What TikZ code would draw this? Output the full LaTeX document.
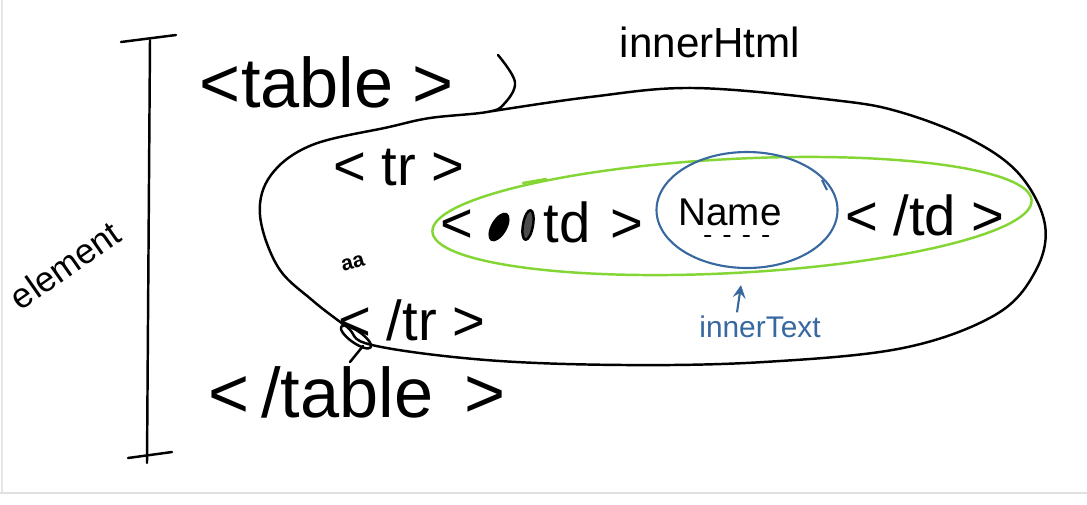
\documentclass[tikz,border=0pt]{standalone}
\usepackage{fontspec}
\setmainfont{Liberation Sans}
\usepackage{xcolor}
\usetikzlibrary{shapes.geometric, arrows, positioning, calc}
\definecolor{pengreen}{RGB}{132,214,52}
\definecolor{penblue}{RGB}{56,104,160}

\begin{document}
\begin{tikzpicture}[
    x=0.1mm, y=-0.1mm,
    pen/.style={line width=0.7pt, line cap=round, line join=round},
    bigtag/.style={inner sep=0pt, font=\fontsize{20}{24}\selectfont},
    tag/.style={inner sep=0pt, font=\fontsize{16}{19}\selectfont},
    note/.style={inner sep=0pt, font=\fontsize{12}{14}\selectfont},
    ring/.style={draw, ellipse, line width=0.7pt, inner sep=0pt},
    arrow/.style={line width=0.6pt,->,>=stealth}
]
\useasboundingbox (0,0) rectangle (1087,504);
\fill[white] (0,0) rectangle (1087,504);
\draw[black!12, line width=0.8pt] (0,493) -- (1087,493);
\draw[black!10, line width=0.5pt] (2,0) -- (2,493);

% element bracket
\draw[pen] (121,42) -- (176,35);
\draw[pen] (150,40) -- (147,463);
\draw[pen] (128,458) -- (172,452);
\node[note, font=\fontsize{10}{12}\selectfont, rotate=35] (elem) at (65,265) {element};

% tags
\node[bigtag] (topen) at (327,82) {<table >};
\node[bigtag] (tclose) at (357,392) {<\,/table\, >};
\node[tag] (tropen) at (399,168) {< tr >};
\node[tag] (trclose) at (412,320) {< /tr >};
\node[tag] (tdopen) at (542,222) {<\hspace{7mm}td\hspace{2mm}>};
\node[tag] (tdclose) at (925,215) {< /td >};
\node[font=\fontsize{6}{7}\selectfont\bfseries, rotate=15, inner sep=0pt] (mark) at (353,263) {aa};

% crossed out letters
\fill[rotate around={60:(499,227)}] (499,227) ellipse (16 and 8);
\draw[pen, fill=black!70, rotate around={80:(528,225)}] (528,225) ellipse (15 and 5);

% innerHTML outline
\draw[pen] plot[smooth, tension=0.6] coordinates {(498,55) (515,82) (504,104) (487,112) (430,118) (389,127) (312,145) (271,175) (260,215) (278,267) (312,300) (347,327) (372,345) (486,360) (625,365) (764,362) (903,348) (995,315) (1035,272) (1045,225) (1020,175) (972,140) (900,112) (833,100) (694,88) (590,97) (487,112)};
\draw[pen, rotate around={-35:(356,337)}] (356,337) ellipse (18 and 6);
\draw[pen] (363,346) -- (350,362);
\node[note] (ihtml) at (710,42) {innerHtml};

% td and its text
\node[ring, pengreen, minimum width=60mm, minimum height=11.4mm, rotate=3] (tdring) at (732,216) {};
\draw[pen, pengreen] (523,183) -- (546,179);
\node[ring, penblue, line width=0.6pt, minimum width=18.1mm, minimum height=11.6mm] (namecirc) at (747,210) {};
\draw[penblue, line width=0.6pt] (822,180) -- (827,190);
\node[inner sep=0pt, font=\fontsize{11}{13}\selectfont] (name) at (730,212) {Name};
\draw[pen, dash pattern=on 1.5pt off 4pt] (705,236) -- (780,236);

\node[inner sep=0pt, font=\fontsize{8.5}{10}\selectfont, text=penblue] (itext) at (760,327) {innerText};
\draw[arrow, penblue] ($(itext.north)+(-23,-3)$) -- ($(namecirc.south)+(-6,16)$);
\end{tikzpicture}
\end{document}
